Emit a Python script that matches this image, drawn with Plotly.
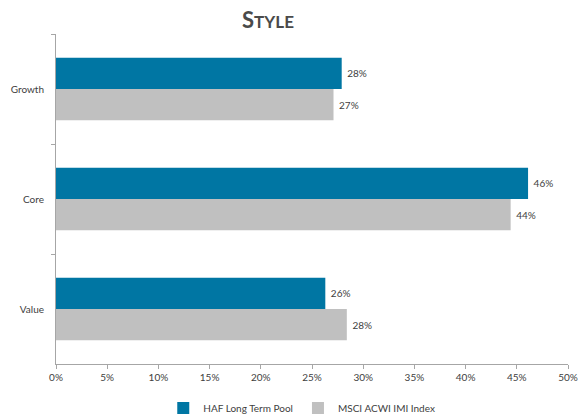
import plotly.graph_objects as go

categories = ["Growth", "Core", "Value"]
haf_values = [27.9, 46.1, 26.3]
msci_values = [27.1, 44.4, 28.4]
series_names = ["HAF Long Term Pool", "MSCI ACWI IMI Index"]
tick_vals = [0, 5, 10, 15, 20, 25, 30, 35, 40, 45, 50]
tick_text = [f"{v}%" for v in tick_vals]

fig = go.Figure()
for name, vals, color in [(series_names[0], haf_values, "#0076A3"),
                          (series_names[1], msci_values, "#C0C0C0")]:
    fig.add_trace(go.Bar(
        y=categories, x=vals, orientation="h", name=name,
        marker=dict(color=color, line=dict(width=0)),
        text=[f" {v:.0f}%" for v in vals], texttemplate="%{text}", textposition="outside",
        textfont=dict(size=10, color="#404040"), cliponaxis=False,
    ))

fig.update_layout(
    width=580, height=420,
    margin=dict(l=56, r=12, t=34, b=56, autoexpand=False),
    paper_bgcolor="white", plot_bgcolor="white",
    font=dict(family="Lato, sans-serif", size=10, color="#404040"),
    barmode="group", bargap=0.433, bargroupgap=0,
    title=dict(text="<b>S<span style='font-size:17px'>TYLE</span></b>",
               x=0.462, xanchor="center", y=0.952, yanchor="middle",
               font=dict(size=22, color="#4A4A4A", family="Lato, sans-serif")),
    xaxis=dict(range=[0, 50], tickvals=tick_vals, ticktext=tick_text,
               automargin=False,
               showgrid=False, zeroline=False, showline=True,
               linecolor="#A6A6A6", linewidth=1, ticks="outside",
               ticklen=4, tickcolor="#A6A6A6", tickfont=dict(size=10, color="#404040")),
    yaxis=dict(autorange="reversed", showgrid=False, showline=True,
               automargin=False, ticklabelstandoff=9,
               linecolor="#A6A6A6", linewidth=1, ticks="outside",
               tickson="boundaries", ticklen=4, tickcolor="#A6A6A6",
               tickfont=dict(size=10, color="#404040")),
    legend=dict(orientation="h", x=0.48, xanchor="center", y=-0.133,
                yanchor="middle", font=dict(size=10, color="#404040"),
                traceorder="normal"),
)

fig.write_html("out.html")
